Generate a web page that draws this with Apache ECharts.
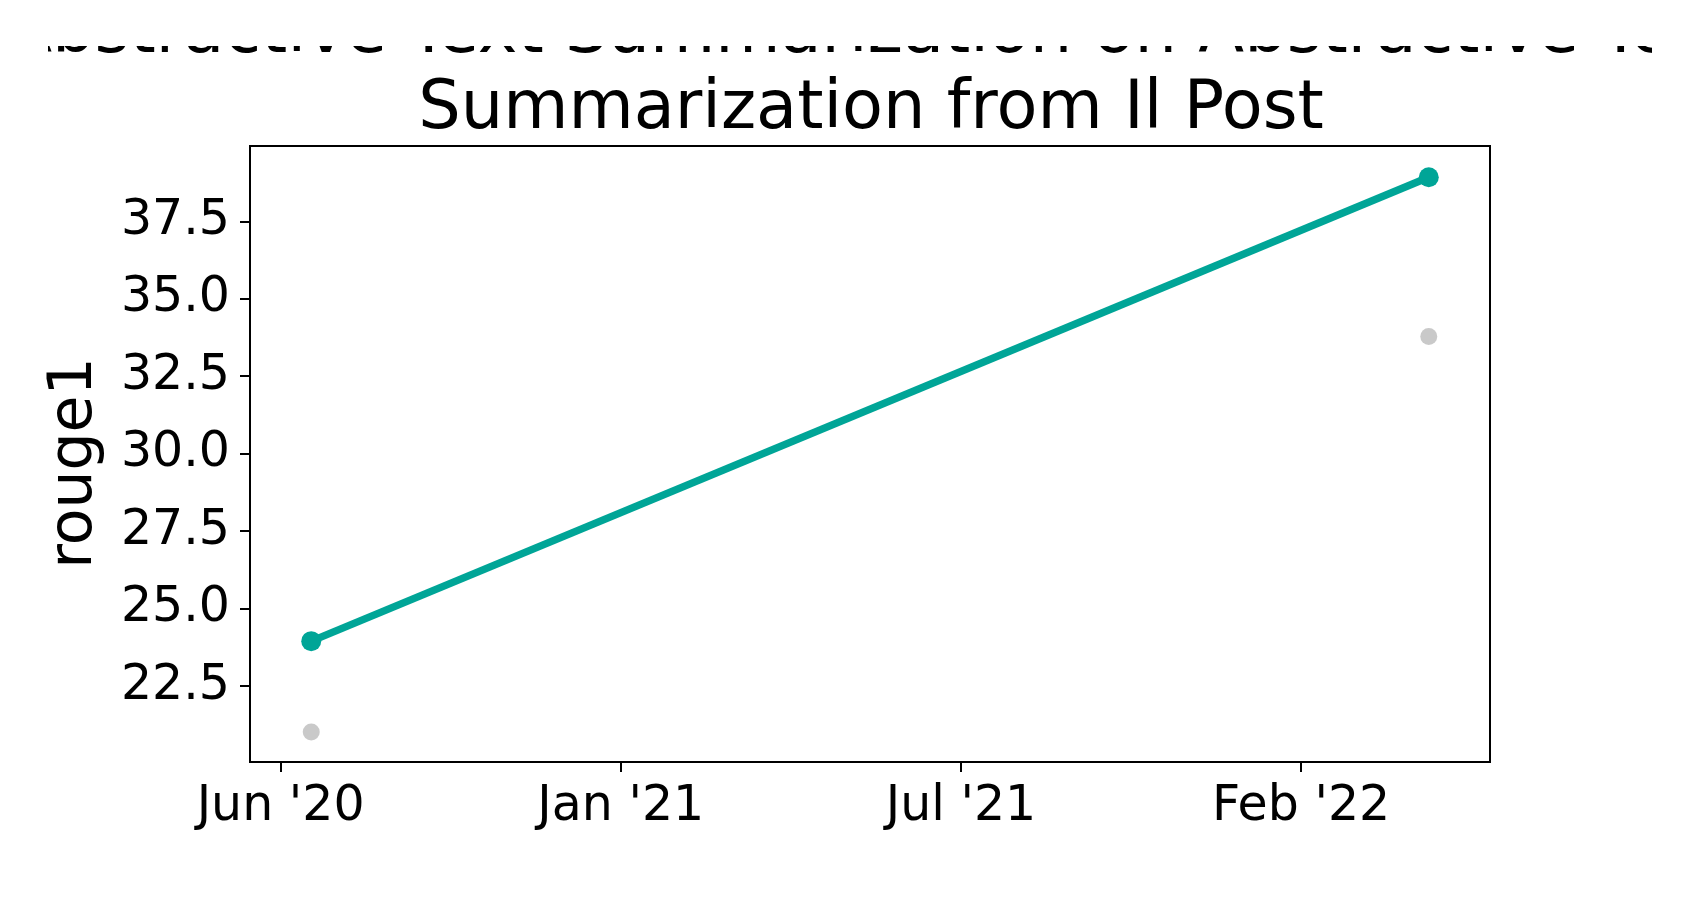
<!DOCTYPE html>
<html>
<head>
<meta charset="utf-8">
<title>rouge1 over time</title>
<script src="https://cdn.jsdelivr.net/npm/echarts@6/dist/echarts.min.js"></script>
<style>
  html, body { margin: 0; padding: 0; background: #fff; }
  #chart { width: 1700px; height: 900px; }
</style>
</head>
<body>
<div id="chart"></div>
<script>
// data
const dates = ['2020-07-12', '2022-04-30']
const rouge1 = [23.95, 38.92]
const baseline = [21.02, 33.78]
const xTickDates = ['2020-06-24', '2021-01-10', '2021-07-29', '2022-02-14']
const yTicks = [22.5, 25.0, 27.5, 30.0, 32.5, 35.0, 37.5]
const xRange = ['2020-06-06', '2022-06-05']
const yRange = [20.05, 39.93]

const months = ['Jan', 'Feb', 'Mar', 'Apr', 'May', 'Jun', 'Jul', 'Aug', 'Sep', 'Oct', 'Nov', 'Dec']
const FONT = 'DejaVu Sans'
const DAY = 86400000

// x is kept as days since 1970-01-01 (UTC)
const toDay = (s) => Date.parse(s) / DAY
const dayLabel = (v) => {
    const d = new Date(Math.round(v) * DAY)
    return months[d.getUTCMonth()] + " '" + String(d.getUTCFullYear()).slice(2)
}

const chart = echarts.init(document.getElementById('chart'))

const option = {
    animation: false,
    backgroundColor: '#fff',
    title: {
        text: 'Abstractive Text Summarization on Abstractive Text\nSummarization from Il Post',
        left: 871,
        top: -3,
        padding: 0,
        textAlign: 'center',
        textStyle: {
            fontFamily: FONT,
            fontSize: 67,
            fontWeight: 'normal',
            lineHeight: 76,
            color: '#000'
        }
    },
    // the original figure was clipped round its edge
    graphic: [
        { type: 'rect', z: 100, shape: { x: 0, y: 0, width: 1700, height: 46 }, style: { fill: '#fff' } },
        { type: 'rect', z: 100, shape: { x: 0, y: 0, width: 48, height: 120 }, style: { fill: '#fff' } },
        { type: 'rect', z: 100, shape: { x: 1652, y: 0, width: 48, height: 120 }, style: { fill: '#fff' } }
    ],
    grid: {
        left: 250,
        right: 210,
        top: 146,
        bottom: 138,
        show: true,
        borderColor: '#000',
        borderWidth: 2,
        containLabel: false
    },
    xAxis: {
        type: 'value',
        min: toDay(xRange[0]),
        max: toDay(xRange[1]),
        axisLine: { show: false },
        splitLine: { show: false },
        axisTick: {
            show: true,
            length: 10,
            customValues: xTickDates.map(toDay),
            lineStyle: { color: '#000', width: 2 }
        },
        axisLabel: {
            customValues: xTickDates.map(toDay),
            margin: 21,
            fontFamily: FONT,
            fontSize: 49,
            color: '#000',
            formatter: dayLabel
        }
    },
    yAxis: {
        type: 'value',
        min: yRange[0],
        max: yRange[1],
        name: 'rouge1',
        nameLocation: 'middle',
        nameRotate: 90,
        nameGap: 145,
        nameMoveOverlap: false,
        nameTextStyle: {
            fontFamily: FONT,
            fontSize: 60,
            color: '#000',
            padding: [0, 18, 0, 0]
        },
        axisLine: { show: false },
        splitLine: { show: false },
        axisTick: {
            show: true,
            length: 10,
            customValues: yTicks,
            lineStyle: { color: '#000', width: 2 }
        },
        axisLabel: {
            customValues: yTicks,
            margin: 20,
            fontFamily: FONT,
            fontSize: 49,
            color: '#000',
            formatter: (v) => v.toFixed(1)
        }
    },
    series: [
        {
            name: 'baseline',
            type: 'scatter',
            data: dates.map((d, i) => [toDay(d), baseline[i]]),
            symbol: 'circle',
            symbolSize: 17,
            itemStyle: { color: '#bbbbbb' }
        },
        {
            name: 'rouge1',
            type: 'line',
            data: dates.map((d, i) => [toDay(d), rouge1[i]]),
            symbol: 'circle',
            symbolSize: 20,
            showSymbol: true,
            lineStyle: { color: '#00a597', width: 7.5 },
            itemStyle: { color: '#00a597' }
        }
    ]
}

chart.setOption(option)
</script>
</body>
</html>
